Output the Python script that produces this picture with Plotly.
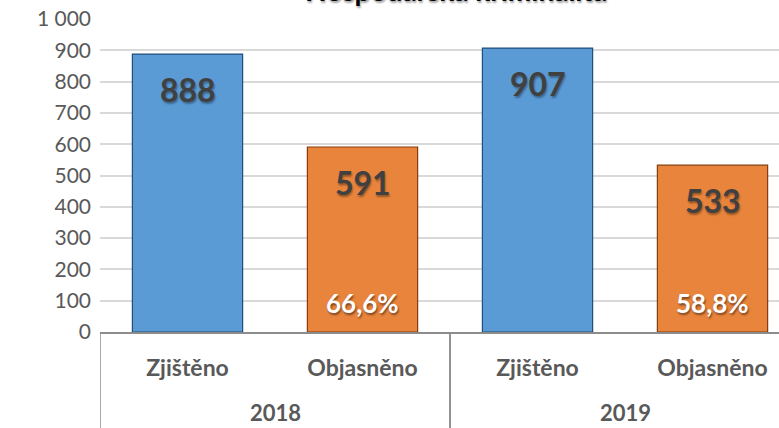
import plotly.graph_objects as go

years = ["2018", "2018", "2019", "2019"]
kinds = ["Zjištěno", "Objasněno", "Zjištěno", "Objasněno"]
values = [888, 591, 907, 533]
pct_labels = ["", "66,6%", "", "58,8%"]
bar_colors = ["#5b9bd5", "#e8843c", "#5b9bd5", "#e8843c"]
edge_colors = ["#1f4e79", "#843c0c", "#1f4e79", "#843c0c"]
y_ticks = [0, 100, 200, 300, 400, 500, 600, 700, 800, 900, 1000]
y_ticktext = ["0", "100", "200", "300", "400", "500", "600", "700", "800", "900", "1 000"]
title_text = "Hospodářská kriminalita"

FONT = "Lato"
GREY = "#595959"
LINE = "#8c8c8c"

positions = list(range(len(kinds)))

fig = go.Figure()
fig.add_trace(go.Bar(
    x=positions,
    y=values,
    width=0.63,
    marker=dict(color=bar_colors, line=dict(color=edge_colors, width=1.2)),
    hoverinfo="skip",
))

annotations = []
for i, v in enumerate(values):
    annotations.append(dict(
        x=positions[i], y=v, xref="x", yref="y", text=f"<b>{v}</b>", showarrow=False,
        yanchor="top", yshift=-14,
        font=dict(family=FONT, size=32, color="#404040",
                  shadow="1px 2px 2px rgba(0,0,0,0.35)"),
    ))
    if pct_labels[i]:
        annotations.append(dict(
            x=positions[i], y=0, xref="x", yref="y", text=f"<b>{pct_labels[i]}</b>",
            showarrow=False, yanchor="bottom", yshift=11,
            font=dict(family=FONT, size=26, color="white",
                      shadow="1px 2px 2px rgba(0,0,0,0.45)"),
        ))

# group (year) labels and divider lines
unique_years = list(dict.fromkeys(years))
shapes = []
for yr in unique_years:
    idx = [p for p, y in zip(positions, years) if y == yr]
    center = sum(idx) / len(idx)
    annotations.append(dict(
        x=center, y=0, xref="x", yref="paper", text=f"<b>{yr}</b>", showarrow=False,
        yanchor="bottom", yshift=-96,
        font=dict(family=FONT, size=22, color=GREY),
    ))
    for edge in (min(idx) - 0.5, max(idx) + 0.5):
        shapes.append(dict(
            type="line", xref="x", yref="paper", x0=edge, x1=edge, y0=0, y1=-0.4,
            line=dict(color=LINE, width=1.5),
        ))

annotations.append(dict(
    x=0.524, y=1, xref="paper", yref="paper", text=f"<b>{title_text}</b>",
    showarrow=False, yanchor="bottom", xanchor="center", yshift=10,
    font=dict(family=FONT, size=28, color="black",
              shadow="1px 2px 2px rgba(0,0,0,0.35)"),
))

fig.update_layout(
    width=779, height=428,
    margin=dict(l=100, r=0, t=19, b=96),
    paper_bgcolor="white", plot_bgcolor="white",
    showlegend=False,
    annotations=annotations,
    shapes=shapes,
    font=dict(family=FONT, color=GREY),
)
fig.update_yaxes(
    range=[0, 1000], tickvals=y_ticks, ticktext=y_ticktext,
    showgrid=True, gridcolor="#d9d9d9", gridwidth=1.5,
    zeroline=False, showline=False,
    tickfont=dict(family=FONT, size=21, color=GREY),
    ticks="", ticklabelstandoff=8,
)
fig.update_xaxes(
    range=[-0.5, 3.38], tickvals=positions, ticktext=kinds,
    showline=True, linecolor=LINE, linewidth=1.5, showgrid=False,
    tickfont=dict(family=FONT, size=23, color=GREY, weight="bold"),
    ticks="", ticklabelstandoff=15,
)

fig.write_html(
    "out.html",
    config={"displayModeBar": False},
    post_script="document.body.style.margin='0';document.body.style.overflow='hidden';",
)
